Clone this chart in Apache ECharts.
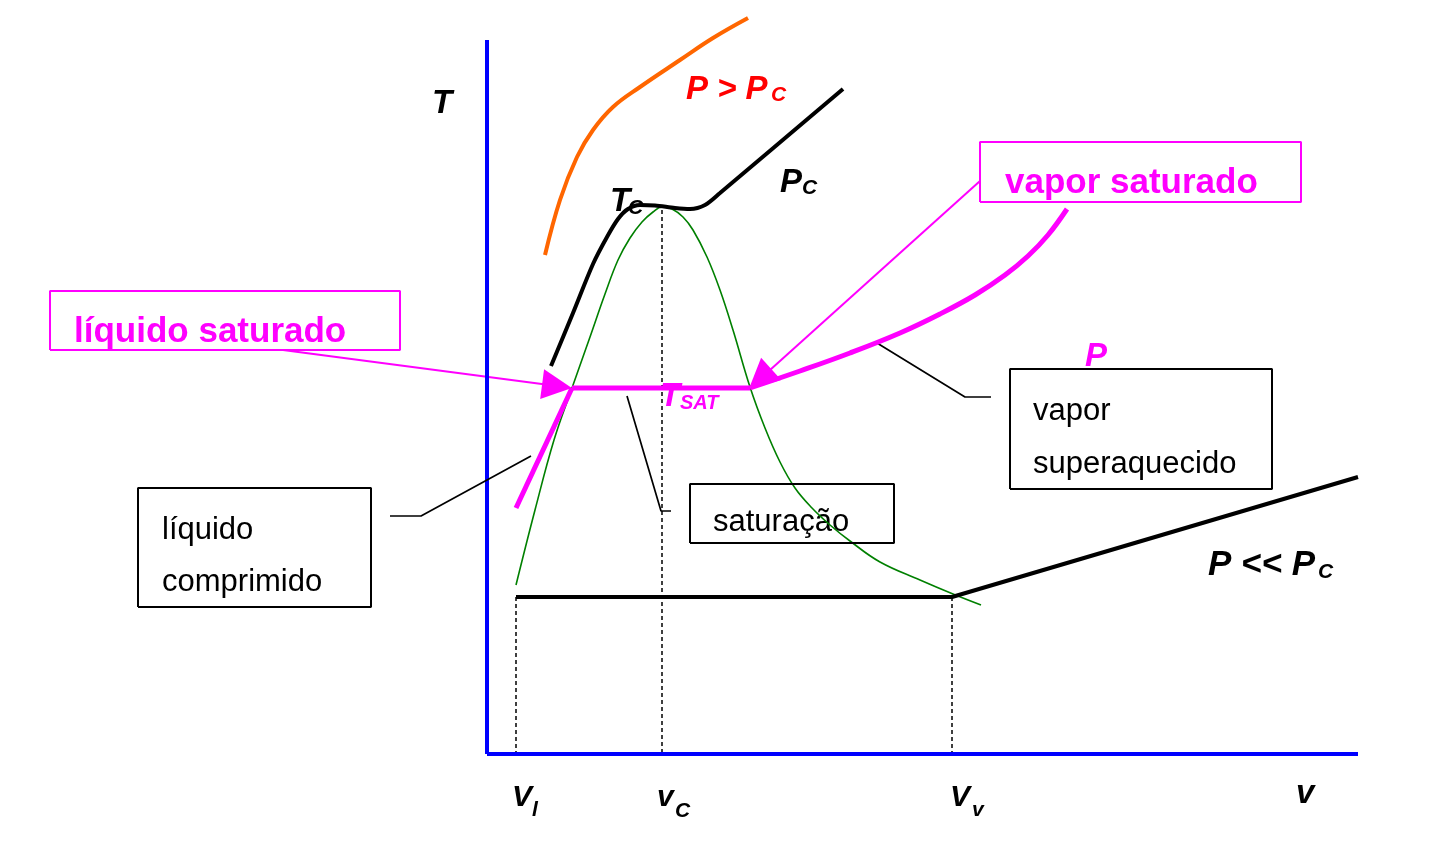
<!DOCTYPE html>
<html><head><meta charset="utf-8">
<script src="https://cdn.jsdelivr.net/npm/echarts@6/dist/echarts.min.js"></script>
<style>html,body{margin:0;padding:0;background:#fff}#c{width:1440px;height:844px}</style>
</head><body><div id="c"></div>
<script>
// ---- Diagram data: specific volume v (horizontal) and temperature T (vertical), origin at axes corner ----
const axisT = [[0, 0], [0, 714]];
const axisV = [[0, 0], [871, 0]];
const isobarAboveCritical = [[58,499],[73,554],[90,597],[106,624],[126,647],[153,667],[193,694],[226,716],[261,736]];
const isobarCritical = [[64,388],[86,441],[106,490],[120,517],[131,535],[141,545],[153,549],[168,548.5],[188,546],[203,545],[218,549],[233,561],[356,665]];
const saturationDome = [[29,169],[48,244],[67,314],[85,366],[103,417],[118,460],[131,494],[143,516],[155,532],[166,542],[175,547],[185,545],[196,537],[206,524],[220,497],[233,464],[246,424],[263,367],[278,326],[293,292],[308,266],[325,246],[343,229],[363,213],[393,192],[433,174],[466,160],[494,149]];
const isobarPLiquid = [[29,246],[85,366]];
const isobarPSaturation = [[85,366],[263,366]];
const isobarPVapor = [[263,366],[313,383],[363,401],[413,421],[453,440],[488,459],[518,479],[541,498],[561,519],[580,545]];
const isobarLow = [[29,157],[465,157],[871,277]];
const dropLines = [[[29,157],[29,0]], [[175,544],[175,0]], [[465,157],[465,0]]];
const arrows = [[[-204,404],[70,368]], [[493,573],[273,375]]];
const leaders = [[[-97,238],[-66,238],[44,298]], [[140,358],[174,243],[184,243]], [[390,411],[478,357],[504,357]]];
const magentaBoxes = [[-437,404,-87,463], [493,552,814,612]];
const blackBoxes = [[-349,147,-116,266], [203,211,407,270], [523,265,785,385]];

// text items: [text, left v, baseline T]
const magentaTitles = [['líquido saturado', -413, 410], ['vapor saturado', 518, 559]];
const boxLabels = [['líquido', -325, 213], ['comprimido', -325, 161], ['saturação', 226, 221], ['vapor', 546, 332], ['superaquecido', 546, 279]];
const blackSymbols = [['T', -55, 639], ['v', 809, -51], ['P', 293, 560], ['T', 123, 541]];
const lowPressureLabel = [['P << P', 721, 177]];
const redSymbols = [['P > P', 199, 653]];
const magentaSymbols = [['P', 598, 386], ['T', 173, 346]];
const blackSubs = [['C', 315, 559], ['C', 141, 539], ['C', 831, 175]];
const redSubs = [['C', 284, 652]];
const magentaSubs = [['SAT', 193, 344]];
const volumeMarks = [['V', 25, -54], ['v', 170, -54], ['V', 463, -54]];
const volumeSubs = [['l', 45, -63], ['C', 188, -64], ['v', 485, -63]];

// ---- build ----
const FONT = 'Liberation Sans, Arial, sans-serif';
const MAG = '#FF00FF';
function lineSeries(data, color, width, opts) {
  return Object.assign({
    type: 'line', data: data, symbol: 'none', showSymbol: false, silent: true, clip: false,
    lineStyle: { color: color, width: width }, animation: false
  }, opts || {});
}
function rectPath(r) { return [[r[0],r[1]],[r[2],r[1]],[r[2],r[3]],[r[0],r[3]],[r[0],r[1]]]; }
function textSeries(items, color, size, weight, style) {
  return {
    type: 'scatter', symbolSize: 0, silent: true, animation: false, clip: false,
    itemStyle: { opacity: 1 },
    data: items.map(function (it) { return { name: it[0], value: [it[1], it[2]] }; }),
    label: {
      show: true, formatter: '{b}', position: [0, 0], align: 'left', verticalAlign: 'middle',
      offset: [0, -0.33 * size], color: color, opacity: 1, fontSize: size, fontWeight: weight,
      fontStyle: style, fontFamily: FONT
    }
  };
}

const series = [];
series.push(lineSeries(saturationDome, '#008000', 1.6, { smooth: 0.4 }));
dropLines.forEach(function (d) { series.push(lineSeries(d, '#000', 1.5, { lineStyle: { color: '#000', width: 1.5, type: [4, 3] } })); });
series.push(lineSeries(axisT, '#0000FF', 4));
series.push(lineSeries(axisV, '#0000FF', 4));
series.push(lineSeries(isobarAboveCritical, '#FF6600', 4, { smooth: 0.4 }));
series.push(lineSeries(isobarLow, '#000', 4));
leaders.forEach(function (d) { series.push(lineSeries(d, '#000', 1.7)); });
blackBoxes.forEach(function (r) { series.push(lineSeries(rectPath(r), '#000', 2)); });
magentaBoxes.forEach(function (r) { series.push(lineSeries(rectPath(r), MAG, 2)); });
series.push(lineSeries(isobarPLiquid, MAG, 5));
series.push(lineSeries(isobarPSaturation, MAG, 5));
series.push(lineSeries(isobarPVapor, MAG, 5, { smooth: 0.4 }));
series.push({
  type: 'lines', coordinateSystem: 'cartesian2d', silent: true, animation: false,
  symbol: ['none', 'triangle'], symbolSize: 30,
  lineStyle: { color: MAG, width: 2, opacity: 1 },
  data: arrows.map(function (a) { return { coords: a }; })
});
series.push(textSeries(magentaTitles, MAG, 35, 'bold', 'normal'));
series.push(textSeries(boxLabels, '#000', 31, 'normal', 'normal'));
series.push(textSeries(blackSymbols, '#000', 33, 'bold', 'italic'));
series.push(textSeries(lowPressureLabel, '#000', 35, 'bold', 'italic'));
series.push(textSeries(redSymbols, '#FF0000', 33, 'bold', 'italic'));
series.push(textSeries(magentaSymbols, MAG, 33, 'bold', 'italic'));
series.push(textSeries(blackSubs, '#000', 21, 'bold', 'italic'));
series.push(textSeries(redSubs, '#FF0000', 21, 'bold', 'italic'));
series.push(textSeries(magentaSubs, MAG, 20, 'bold', 'italic'));
series.push(textSeries(volumeMarks, '#000', 30, 'bold', 'italic'));
series.push(textSeries(volumeSubs, '#000', 21, 'bold', 'italic'));
series.push(lineSeries(isobarCritical, '#000', 4, { smooth: 0.3 }));

const chart = echarts.init(document.getElementById('c'), null, { renderer: 'canvas' });
chart.setOption({
  backgroundColor: '#fff',
  animation: false,
  grid: { left: 0, right: 0, top: 0, bottom: 0 },
  xAxis: { type: 'value', min: -487, max: 953, show: false, splitLine: { show: false } },
  yAxis: { type: 'value', min: -90, max: 754, show: false, splitLine: { show: false } },
  series: series
});
</script></body></html>
